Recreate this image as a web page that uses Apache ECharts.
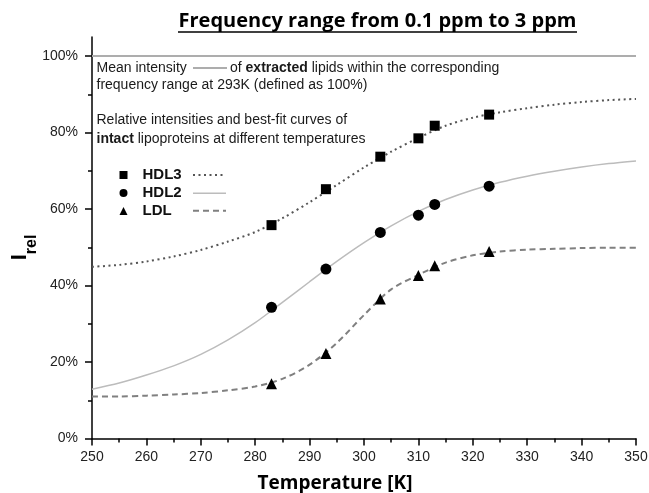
<!DOCTYPE html>
<html>
<head>
<meta charset="utf-8">
<script src="https://cdn.jsdelivr.net/npm/echarts@6/dist/echarts.min.js"></script>
<style>
html,body{margin:0;padding:0;background:#fff;}
#chart{width:649px;height:493px;}
</style>
</head>
<body>
<div id="chart"></div>
<script>
// ---- data ----
const temps = [283, 293, 303, 310, 313, 323];
const hdl3 = [55.8, 65.2, 73.7, 78.5, 81.8, 84.7];
const hdl2 = [34.3, 44.3, 53.9, 58.4, 61.2, 66.0];
const ldl  = [14.3, 22.2, 36.5, 42.6, 45.2, 48.9];

const fitT    = [250, 255, 260, 265, 270, 275, 280, 285, 290, 295, 300, 305, 310, 315, 320, 325, 330, 335, 340, 345, 350];
const hdl3Fit = [44.9, 45.4, 46.3, 47.6, 49.3, 51.5, 54.0, 57.6, 61.8, 66.3, 70.9, 75.0, 78.6, 81.8, 83.9, 85.3, 86.4, 87.3, 88.0, 88.5, 88.8];
const hdl2Fit = [12.9, 14.5, 16.6, 19.0, 22.0, 25.8, 30.3, 35.6, 41.0, 46.3, 51.2, 55.6, 59.4, 62.5, 65.0, 67.0, 68.6, 69.9, 71.0, 71.9, 72.6];
const ldlFit  = [11.0, 11.0, 11.2, 11.5, 11.9, 12.6, 13.6, 15.6, 19.3, 25.0, 32.3, 39.0, 42.8, 46.0, 47.9, 48.9, 49.4, 49.6, 49.8, 49.9, 49.9];

const refT = [250, 350];
const refV = [100, 100];

const yTicks = [0, 20, 40, 60, 80, 100];
const yMinor = [10, 30, 50, 70, 90];
const seriesNames = ['HDL3', 'HDL2', 'LDL'];

const pairs = (xs, ys) => xs.map((x, i) => [x, ys[i]]);

const chart = echarts.init(document.getElementById('chart'), null, {renderer: 'canvas'});
const SANS = '"Liberation Sans", Arial, sans-serif';
const TITLE = '"Open Sans", "Noto Sans", sans-serif';

const HDL3_LINE = {color: '#555', width: 2, type: [2, 3.5]};
const HDL2_LINE = {color: '#bcbcbc', width: 1.5, type: 'solid'};
const LDL_LINE  = {color: '#808080', width: 2, type: [6, 4]};

function sample(y, ls) {
  return {type: 'line', z: 10, shape: {x1: 193, y1: y, x2: 226, y2: y},
          style: {stroke: ls.color, lineWidth: ls.width, lineDash: Array.isArray(ls.type) ? ls.type : null}};
}

const option = {
  animation: false,
  backgroundColor: '#fff',
  grid: {left: 92, right: 13, top: 37, bottom: 54.5, containLabel: false, outerBoundsMode: 'none'},
  xAxis: [{
    type: 'value', min: 250, max: 350, interval: 10,
    axisLine: {lineStyle: {color: '#000', width: 1.5}},
    axisTick: {length: 7, lineStyle: {color: '#000', width: 1.5}},
    minorTick: {show: true, splitNumber: 2, length: 4, lineStyle: {color: '#000', width: 1.5}},
    splitLine: {show: false},
    axisLabel: {margin: 12, fontSize: 14, color: '#222', fontFamily: SANS},
    name: 'Temperature [K]', nameLocation: 'middle', nameGap: 36,
    nameTextStyle: {fontFamily: TITLE, fontWeight: 'bold', fontSize: 19, color: '#000', padding: [0, 58, 0, 0]}
  }],
  yAxis: [{
    type: 'value', min: 0, max: 105, position: 'left',
    axisLine: {show: true, lineStyle: {color: '#000', width: 1.5}},
    axisTick: {show: true, customValues: yTicks, length: 7, lineStyle: {color: '#000', width: 1.5}},
    axisLabel: {customValues: yTicks, formatter: '{value}%', margin: 14, fontSize: 14, color: '#222', fontFamily: SANS},
    splitLine: {show: false}
  }, {
    type: 'value', min: 0, max: 105, position: 'left',
    axisLine: {show: false},
    axisTick: {show: true, customValues: yMinor, length: 4, lineStyle: {color: '#000', width: 1.5}},
    axisLabel: {show: false},
    splitLine: {show: false}
  }],
  legend: [{
    data: [{name: 'HDL3', icon: 'rect'}, {name: 'HDL2', icon: 'circle'}, {name: 'LDL', icon: 'triangle'}],
    orient: 'vertical', left: 119.5, top: 166, padding: 0, itemWidth: 8, itemHeight: 8, itemGap: 0,
    selectedMode: false,
    formatter: function (name) { return '{n|' + name + '}'; },
    textStyle: {fontSize: 15, fontWeight: 'bold', fontFamily: SANS, color: '#111', lineHeight: 18,
      rich: {n: {fontSize: 15, fontWeight: 'bold', fontFamily: SANS, color: '#111', lineHeight: 18, padding: [0, 0, 0, 10]}}}
  }],
  series: [
    {name: 'ref', type: 'line', data: pairs(refT, refV), symbol: 'none', silent: true,
     lineStyle: {color: '#adadad', width: 2}, z: 1},
    {name: 'HDL3 fit', type: 'line', data: pairs(fitT, hdl3Fit), smooth: 0.3, symbol: 'none', showSymbol: false,
     lineStyle: HDL3_LINE, z: 2},
    {name: 'HDL2 fit', type: 'line', data: pairs(fitT, hdl2Fit), smooth: 0.3, symbol: 'none', showSymbol: false,
     lineStyle: HDL2_LINE, z: 2},
    {name: 'LDL fit', type: 'line', data: pairs(fitT, ldlFit), smooth: 0.3, symbol: 'none', showSymbol: false,
     lineStyle: LDL_LINE, z: 2},
    {name: 'HDL3', type: 'scatter', data: pairs(temps, hdl3), symbol: 'rect', symbolSize: 10,
     itemStyle: {color: '#000', opacity: 1}, z: 5},
    {name: 'HDL2', type: 'scatter', data: pairs(temps, hdl2), symbol: 'circle', symbolSize: 11,
     itemStyle: {color: '#000', opacity: 1}, z: 5},
    {name: 'LDL', type: 'scatter', data: pairs(temps, ldl), symbol: 'triangle', symbolSize: 11,
     itemStyle: {color: '#000', opacity: 1}, z: 5}
  ],
  graphic: [
    {type: 'text', x: 377.5, y: 21, z: 10,
     style: {text: 'Frequency range from 0.1 ppm to 3 ppm', fontFamily: TITLE, fontWeight: 'bold', fontSize: 20,
             fill: '#000', align: 'center', verticalAlign: 'middle'}},
    {type: 'line', z: 10, shape: {x1: 178, y1: 32, x2: 577, y2: 32}, style: {stroke: '#000', lineWidth: 1.5}},
    {type: 'text', x: 19.5, y: 247.5, rotation: Math.PI / 2, z: 10,
     style: {text: '{i|I}{s|rel}', align: 'center', verticalAlign: 'middle',
             rich: {
               i: {fontSize: 22, lineHeight: 22, fontWeight: 'bold', fontFamily: SANS, fill: '#000', verticalAlign: 'top'},
               s: {fontSize: 16, lineHeight: 16, fontWeight: 'bold', fontFamily: SANS, fill: '#000', verticalAlign: 'top', padding: [15, 0, 0, 0]}
             }}},
    {type: 'text', x: 96.5, y: 68.3, z: 10,
     style: {text: 'Mean intensity', fontFamily: SANS, fontSize: 14, fill: '#1a1a1a', verticalAlign: 'middle'}},
    {type: 'line', z: 10, shape: {x1: 193, y1: 68, x2: 227, y2: 68}, style: {stroke: '#adadad', lineWidth: 2}},
    {type: 'text', x: 230, y: 68.3, z: 10,
     style: {text: 'of {b|extracted} lipids within the corresponding', fontFamily: SANS, fontSize: 14, fill: '#1a1a1a',
             verticalAlign: 'middle', rich: {b: {fontFamily: SANS, fontSize: 14, fontWeight: 'bold', fill: '#1a1a1a'}}}},
    {type: 'text', x: 96.5, y: 85.5, z: 10,
     style: {text: 'frequency range at 293K (defined as 100%)', fontFamily: SANS, fontSize: 14, fill: '#1a1a1a', verticalAlign: 'middle'}},
    {type: 'text', x: 96.5, y: 120.5, z: 10,
     style: {text: 'Relative intensities and best-fit curves of', fontFamily: SANS, fontSize: 14, fill: '#1a1a1a', verticalAlign: 'middle'}},
    {type: 'text', x: 96.5, y: 139, z: 10,
     style: {text: '{b|intact} lipoproteins at different temperatures', fontFamily: SANS, fontSize: 14, fill: '#1a1a1a',
             verticalAlign: 'middle', rich: {b: {fontFamily: SANS, fontSize: 14, fontWeight: 'bold', fill: '#1a1a1a'}}}},
    sample(175, HDL3_LINE),
    sample(193.3, HDL2_LINE),
    sample(210.7, LDL_LINE)
  ]
};
chart.setOption(option);
</script>
</body>
</html>
